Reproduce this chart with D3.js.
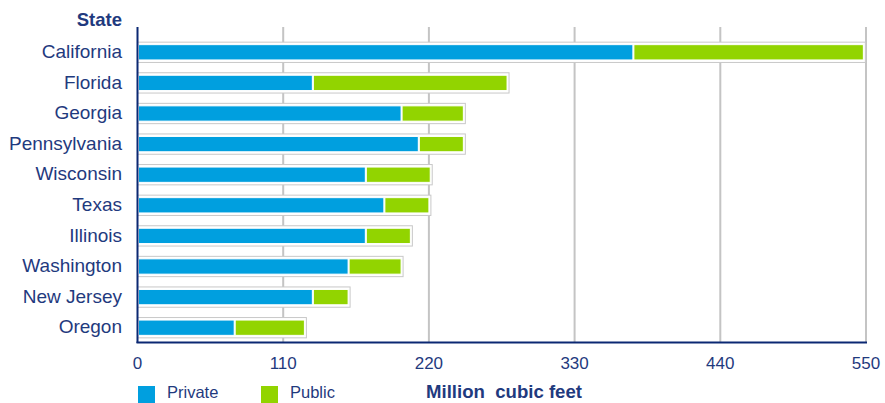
<!DOCTYPE html>
<html lang="en">
<head>
<meta charset="utf-8">
<title>Million cubic feet by state</title>
<script src="https://cdn.jsdelivr.net/npm/d3@7"></script>
<style>
  body { margin: 0; background: #fff; }
  svg text { font-family: "Liberation Sans", Arial, sans-serif; }
</style>
</head>
<body>
<script>
// data
var states = ["California", "Florida", "Georgia", "Pennsylvania", "Wisconsin",
              "Texas", "Illinois", "Washington", "New Jersey", "Oregon"];
var privateVals = [374, 132, 199, 212, 172, 186, 172, 159, 132, 73];
var publicVals  = [174, 147, 47, 34, 49, 34, 34, 40, 27, 53];
var ticks = [0, 110, 220, 330, 440, 550];
var seriesNames = ["Private", "Public"];
var colors = ["#009fdf", "#92d400"];

var w = 885, h = 403;
var navy = "#1f3a7e";

var svg = d3.select("body").append("svg")
  .attr("width", w).attr("height", h);

var x = d3.scaleLinear().domain([0, 550]).range([137.5, 866]);
var y = d3.scaleBand().domain(states).range([37, 343]).paddingInner(0.5).paddingOuter(0.25);

// grid lines
svg.append("g").selectAll("line")
  .data(ticks.slice(1))
  .enter().append("line")
  .attr("x1", function(d) { return x(d); })
  .attr("x2", function(d) { return x(d); })
  .attr("y1", 27).attr("y2", 343)
  .attr("stroke", "#c4c4c4").attr("stroke-width", 2);

// stacked bars
var rows = states.map(function(s, i) {
  return { state: s, vals: [privateVals[i], publicVals[i]] };
});
var bh = y.bandwidth();
var bar = svg.append("g").selectAll("g")
  .data(rows).enter().append("g");

bar.append("rect")
  .attr("x", x(0))
  .attr("y", function(d) { return y(d.state) - 2.5; })
  .attr("width", function(d) { return x(d.vals[0] + d.vals[1]) - x(0) + 2; })
  .attr("height", bh + 5)
  .attr("fill", "#fff")
  .attr("stroke", "#c8c8c8").attr("stroke-width", 1);

bar.selectAll("rect.seg")
  .data(function(d) {
    var start = 0;
    return d.vals.map(function(v, k) {
      var seg = { state: d.state, x0: start, x1: start + v, k: k };
      start += v;
      return seg;
    });
  })
  .enter().append("rect")
  .attr("class", "seg")
  .attr("x", function(d) { return x(d.x0) + 1; })
  .attr("y", function(d) { return y(d.state); })
  .attr("width", function(d) { return x(d.x1) - x(d.x0) - 1; })
  .attr("height", bh)
  .attr("fill", function(d) { return colors[d.k]; })
  .attr("stroke", "#fff").attr("stroke-width", 1);

// axes lines
svg.append("line")
  .attr("x1", 137.5).attr("x2", 137.5).attr("y1", 27).attr("y2", 343)
  .attr("stroke", "#0b2873").attr("stroke-width", 2);
svg.append("line")
  .attr("x1", 136.5).attr("x2", 867).attr("y1", 342.5).attr("y2", 342.5)
  .attr("stroke", "#0b2873").attr("stroke-width", 2);

// state labels
svg.append("g").selectAll("text")
  .data(states).enter().append("text")
  .attr("x", 122)
  .attr("y", function(d) { return y(d) + bh / 2; })
  .attr("dy", "0.3em")
  .attr("text-anchor", "end")
  .attr("font-size", "19px")
  .attr("fill", navy)
  .text(function(d) { return d; });

svg.append("text")
  .attr("x", 122).attr("y", 26)
  .attr("text-anchor", "end")
  .attr("font-size", "18.5px").attr("font-weight", "bold")
  .attr("fill", navy)
  .text("State");

// tick labels
svg.append("g").selectAll("text")
  .data(ticks).enter().append("text")
  .attr("x", function(d) { return x(d); })
  .attr("y", 369)
  .attr("text-anchor", "middle")
  .attr("font-size", "17px")
  .attr("fill", navy)
  .text(function(d) { return d; });

// legend
var lx = [138, 261];
var leg = svg.append("g").selectAll("g")
  .data(seriesNames).enter().append("g");
leg.append("rect")
  .attr("x", function(d, i) { return lx[i]; })
  .attr("y", 386).attr("width", 17).attr("height", 17)
  .attr("fill", function(d, i) { return colors[i]; });
leg.append("text")
  .attr("x", function(d, i) { return lx[i] + 29; })
  .attr("y", 398)
  .attr("font-size", "16.5px")
  .attr("fill", navy)
  .text(function(d) { return d; });

svg.append("text")
  .attr("x", 426).attr("y", 398)
  .attr("font-size", "18.6px").attr("font-weight", "bold")
  .attr("fill", navy)
  .attr("xml:space", "preserve")
  .style("white-space", "pre")
  .text("Million  cubic feet");
</script>
</body>
</html>
